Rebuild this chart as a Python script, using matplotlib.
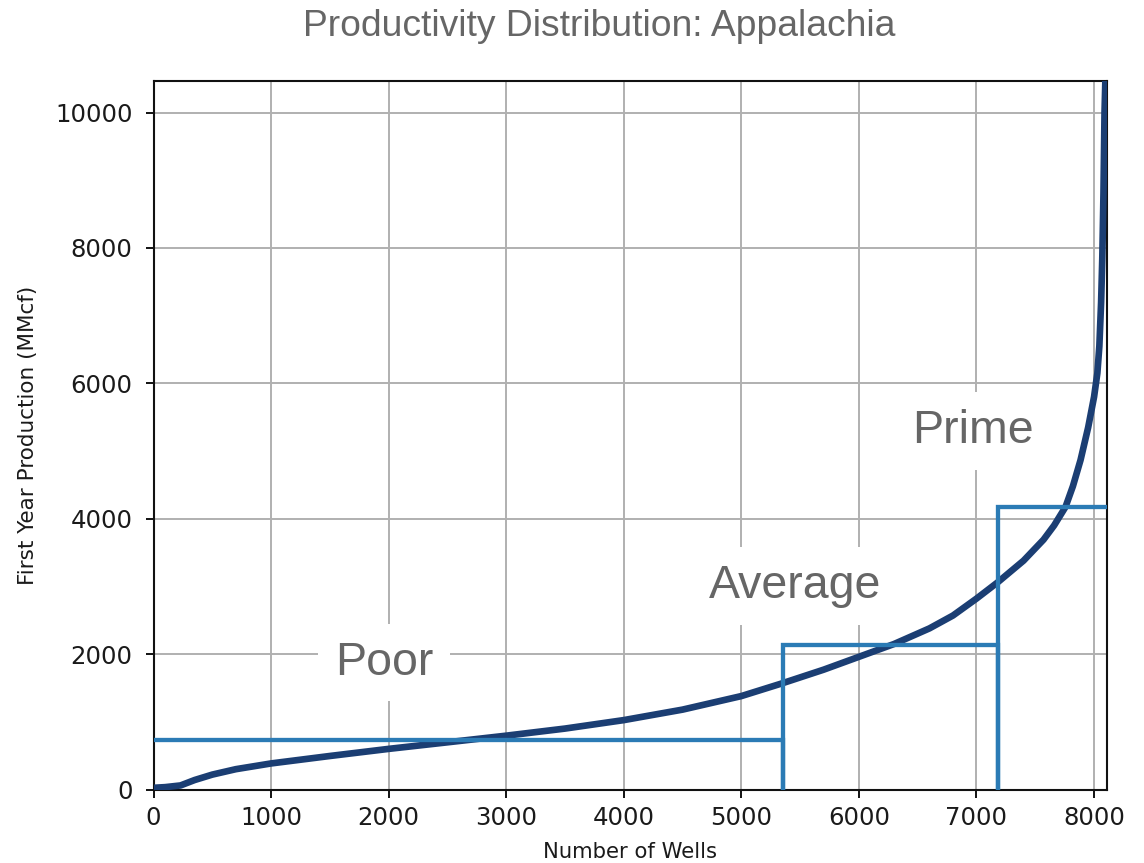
import matplotlib
matplotlib.use("Agg")
import matplotlib.pyplot as plt

# Sorted first-year production per well (MMcf) against well rank
wells = [0, 100, 230, 350, 500, 700, 1000, 1500, 2000, 2500, 3000, 3500,
         4000, 4500, 5000, 5350, 5700, 6000, 6300, 6600, 6800, 7000, 7180,
         7400, 7570, 7660, 7757, 7820, 7885, 7950, 8000, 8028, 8045, 8060,
         8070, 8080, 8089, 8096]
production = [25, 35, 60, 140, 220, 300, 385, 495, 600, 697, 795, 900,
              1025, 1180, 1380, 1570, 1770, 1960, 2150, 2380, 2570, 2820,
              3060, 3380, 3690, 3900, 4174, 4480, 4867, 5350, 5800, 6150,
              6550, 7200, 7850, 8800, 10000, 10470]

# Productivity tiers: start well, end well, threshold (MMcf)
tier_names = ["Poor", "Average", "Prime"]
tier_start = [0, 5351, 7179]
tier_end = [5351, 7179, 8110]
tier_level = [737, 2130, 4174]
label_x = [1962, 5460, 6966]
label_y = [1696, 2832, 5118]

x_max = 8110
y_max = 10470

fig = plt.figure(figsize=(11.44, 8.63), dpi=100)
ax = fig.add_axes([153.5 / 1144, 1 - 789.5 / 863, (1107 - 153.5) / 1144,
                   (789.5 - 80.7) / 863])

ax.grid(True, color="#b0b0b0", linewidth=1.4, zorder=0)
ax.set_axisbelow(True)

ax.plot(wells, production, color="#1b3e73", linewidth=4.8, zorder=3,
        solid_capstyle="butt", solid_joinstyle="round")

step_color = "#2b7bb5"
for i in range(len(tier_names)):
    if tier_start[i] > 0:
        xs = [tier_start[i], tier_start[i], tier_end[i]]
        ys = [0, tier_level[i], tier_level[i]]
    else:
        xs = [tier_start[i], tier_end[i]]
        ys = [tier_level[i], tier_level[i]]
    if i < len(tier_names) - 1:
        xs.append(tier_end[i])
        ys.append(0)
    ax.plot(xs, ys, color=step_color, linewidth=3.1, zorder=4,
            solid_joinstyle="miter")

for name, lx, ly in zip(tier_names, label_x, label_y):
    ax.text(lx, ly, name, fontsize=33.5, color="#666666", ha="center",
            va="baseline", family=["Liberation Sans", "DejaVu Sans"], zorder=2,
            bbox=dict(facecolor="white", edgecolor="none", pad=12))

ax.set_xlim(0, x_max)
ax.set_ylim(0, y_max)
ax.set_xticks([0, 1000, 2000, 3000, 4000, 5000, 6000, 7000, 8000])
ax.set_yticks([0, 2000, 4000, 6000, 8000, 10000])
ax.tick_params(labelsize=17.6, length=6, width=1.4, color="#111111",
               labelcolor="#1a1a1a")
ax.tick_params(axis="x", pad=6)
ax.tick_params(axis="y", pad=9)
for s in ax.spines.values():
    s.set_linewidth(1.5)
    s.set_color("#111111")

ax.set_xlabel("Number of Wells", fontsize=15.2, color="#1a1a1a")
ax.set_ylabel("First Year Production (MMcf)", fontsize=15.5, color="#1a1a1a")
ax.xaxis.label.set_va("center")
ax.yaxis.label.set_va("center")
ax.xaxis.set_label_coords(0.5, (789.5 - 852) / 708.8)
ax.yaxis.set_label_coords((27.5 - 153.5) / 953.5, 0.5)

fig.text(599 / 1144, 1 - 36 / 863, "Productivity Distribution: Appalachia",
         fontsize=26.8, color="#666666", ha="center", va="baseline",
         family=["Liberation Sans", "DejaVu Sans"])

fig.savefig("out.png", dpi=100, facecolor="white")
